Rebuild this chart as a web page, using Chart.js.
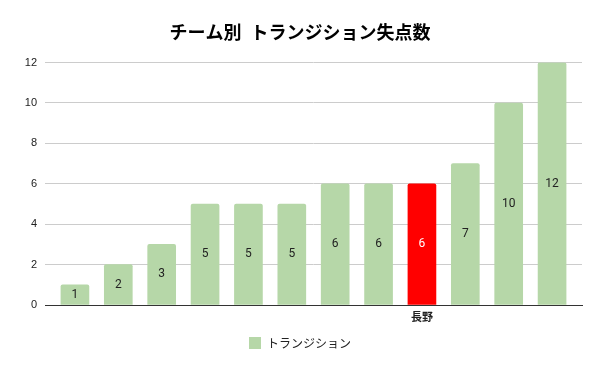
<!DOCTYPE html>
<html>
<head>
<meta charset="utf-8">
<script src="https://cdn.jsdelivr.net/npm/chart.js@4.4.1/dist/chart.umd.min.js"></script>
<style>
  html, body { margin: 0; padding: 0; background: #fff; }
  #wrap { width: 600px; height: 371px; position: relative; }
</style>
</head>
<body>
<div id="wrap"><canvas id="chart"></canvas></div>
<script>
// only one team name shows on the axis in the original
const teamLabels = ['', '', '', '', '', '', '', '', '長野', '', '', ''];
const goalsAgainst = [1, 2, 3, 5, 5, 5, 6, 6, 6, 7, 10, 12];
const yTicks = [0, 2, 4, 6, 8, 10, 12];
const highlightTeam = '長野';

const GREEN = '#b6d7a8';
const RED = '#ff0000';
const JP_FONT = '"Noto Sans CJK JP", "Noto Sans", sans-serif';

const highlightIndex = teamLabels.indexOf(highlightTeam);

// value labels drawn in the middle of each bar
const barValueLabels = {
    id: 'barValueLabels',
    afterDatasetsDraw(chart) {
        const { ctx } = chart;
        const meta = chart.getDatasetMeta(0);
        ctx.save();
        ctx.font = '12px Roboto, "Liberation Sans", sans-serif';
        ctx.textAlign = 'center';
        ctx.textBaseline = 'middle';
        meta.data.forEach((bar, i) => {
            ctx.fillStyle = i === highlightIndex ? '#ffffff' : '#222222';
            ctx.fillText(String(goalsAgainst[i]), bar.x, (bar.y + bar.base) / 2);
        });
        ctx.restore();
    }
};

new Chart(document.getElementById('chart'), {
    type: 'bar',
    data: {
        datasets: [{
            label: 'トランジション',
            data: goalsAgainst.map((v, i) => ({ x: i, y: v })),
            backgroundColor: (c) => c.dataIndex === highlightIndex ? RED : GREEN,
            borderWidth: 0,
            borderRadius: { topLeft: 2, topRight: 2 },
            borderSkipped: 'bottom',
            barThickness: 28
        }]
    },
    options: {
        responsive: true,
        maintainAspectRatio: false,
        animation: false,
        layout: { padding: { left: 18, right: 18, top: 0, bottom: 12 } },
        plugins: {
            title: {
                display: true,
                text: 'チーム別\u2002トランジション失点数',
                color: '#000',
                font: { family: JP_FONT, size: 18, weight: 'bold' },
                padding: { top: 21, bottom: 20 }
            },
            legend: {
                position: 'bottom',
                labels: {
                    color: '#222',
                    font: { family: JP_FONT, size: 12 },
                    boxWidth: 12,
                    boxHeight: 12,
                    padding: 12
                }
            },
            tooltip: { enabled: false }
        },
        scales: {
            x: {
                type: 'linear',
                offset: false,
                min: -0.69,
                max: 11.69,
                afterFit: (scale) => { scale.height = 20; },
                grid: { display: false, drawTicks: false },
                border: { display: true, color: '#333', width: 1 },
                ticks: {
                    stepSize: 1,
                    includeBounds: false,
                    autoSkip: false,
                    maxRotation: 0,
                    padding: 5,
                    color: '#222',
                    font: { family: JP_FONT, size: 11, weight: 'bold' },
                    callback: (v) => teamLabels[v] ?? ''
                }
            },
            y: {
                min: 0,
                max: 12,
                afterFit: (scale) => { scale.width = 27; },
                afterBuildTicks: (scale) => { scale.ticks = yTicks.map(v => ({ value: v })); },
                grid: { color: '#cccccc', drawTicks: false },
                border: { display: false },
                ticks: {
                    padding: 8,
                    color: '#222',
                    font: { family: '"Liberation Sans", Arial, sans-serif', size: 11 }
                }
            }
        }
    },
    plugins: [barValueLabels]
});
</script>
</body>
</html>
